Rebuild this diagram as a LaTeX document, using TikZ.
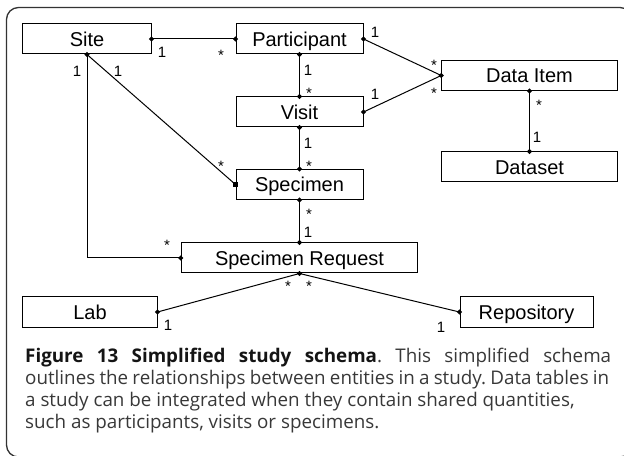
\documentclass[tikz,border=0pt]{standalone}
\usepackage{fontspec}
\setmainfont{Liberation Sans}
\newfontfamily\capfont{Open Sans}
\usetikzlibrary{shapes.geometric}
\frenchspacing
\begin{document}
\begin{tikzpicture}[x=1bp,y=-1bp,
  ent/.style={draw=black, line width=1bp, minimum height=30bp, inner sep=0pt,
    text height=14.3bp, text depth=0pt, font=\fontsize{20bp}{24bp}\selectfont},
  conn/.style={line width=1bp, draw=black},
  dia/.style={diamond, fill=black, inner sep=0pt, minimum size=5.5bp},
  sqm/.style={rectangle, fill=black, inner sep=0pt, minimum size=4.5bp},
  one/.style={inner sep=0pt, font=\fontsize{15bp}{18bp}\selectfont},
  star/.style={inner sep=0pt, anchor=north, font=\fontsize{15bp}{18bp}\selectfont},
  captxt/.style={inner sep=0pt, anchor=base west, text=black!78,
    font=\capfont\fontsize{18.8bp}{22bp}\selectfont\frenchspacing},
]
\useasboundingbox (0,0) rectangle (624,456);
\draw[line width=1.3bp, draw=black!80, rounded corners=12bp] (6.5,7.5) rectangle (632,457);

% entities
\node[ent, minimum width=128bp] (site) at (87,39) {Site};
\node[ent, minimum width=127bp] (part) at (299.5,39) {Participant};
\node[ent, minimum width=127bp] (visit) at (299.5,112) {Visit};
\node[ent, minimum width=127bp] (spec) at (299.5,184.5) {Specimen};
\node[ent, minimum width=175.5bp] (ditem) at (529.5,75.5) {Data Item};
\node[ent, minimum width=175.5bp] (dset) at (529.5,167) {Dataset};
\node[ent, minimum width=236.5bp] (sreq) at (299.5,258) {Specimen Request};
\node[ent, minimum width=134bp] (lab) at (90,312) {Lab};
\node[ent, minimum width=133bp] (repo) at (526.5,312) {Repository};

% connectors
\draw[conn] (site.east) -- (part.west);
\draw[conn] (site.south) -- (site.south |- sreq.west) -- (sreq.west);
\draw[conn] (site.south) -- (spec.west);
\draw[conn] (part.south) -- (visit.north);
\draw[conn] (visit.south) -- (spec.north);
\draw[conn] (spec.south) -- (sreq.north);
\draw[conn] (part.east) -- (ditem.west);
\draw[conn] (visit.east) -- (ditem.west);
\draw[conn] (ditem.south) -- (dset.north);
\draw[conn] (sreq.south) -- (lab.east);
\draw[conn] (sreq.south) -- (repo.west);

% end markers
\foreach \p [count=\i] in {site.east,part.west,site.south,part.south,visit.north,
  visit.south,spec.north,spec.south,sreq.north,sreq.west,sreq.south,lab.east,
  repo.west,part.east,visit.east,ditem.west,ditem.south,dset.north}
  \node[dia] (mk\i) at (\p) {};
\node[sqm] (mksq) at (spec.west) {};

% multiplicities
\node[one] (l1) at (162,52) {1};
\node[star] (s1) at (221,50) {*};
\node[one] (l2) at (77,71) {1};
\node[one] (l3) at (118,71) {1};
\node[star] (s3) at (221,160.5) {*};
\node[one] (l4) at (308,70) {1};
\node[star] (s4) at (309,87.5) {*};
\node[one] (l5) at (308,143) {1};
\node[star] (s5) at (309,160.5) {*};
\node[star] (s6) at (309,208.5) {*};
\node[one] (l6) at (308,232) {1};
\node[one] (l7) at (375,32) {1};
\node[star] (s7) at (434,59.5) {*};
\node[one] (l8) at (375,94) {1};
\node[star] (s8) at (434,87.5) {*};
\node[star] (s9) at (539,99.5) {*};
\node[one] (l9) at (537,137) {1};
\node[star] (s10) at (167,239.5) {*};
\node[star] (s11) at (288,280.5) {*};
\node[one] (l11) at (168,325) {1};
\node[star] (s12) at (309,280.5) {*};
\node[one] (l12) at (441,327) {1};

% caption
\node[captxt] (c1) at (25,362.5) {\makebox[586bp][s]{\textcolor{black!92}{\textbf{Figure 13 Simplified study schema}}. This simplified schema}};
\node[captxt] (c2) at (25,384) {\makebox[584bp][s]{outlines the relationships between entities in a study. Data tables in}};
\node[captxt] (c3) at (25,406) {a study can be integrated when they contain shared quantities,};
\node[captxt] (c4) at (25,428) {such as participants, visits or specimens.};
\end{tikzpicture}
\end{document}
